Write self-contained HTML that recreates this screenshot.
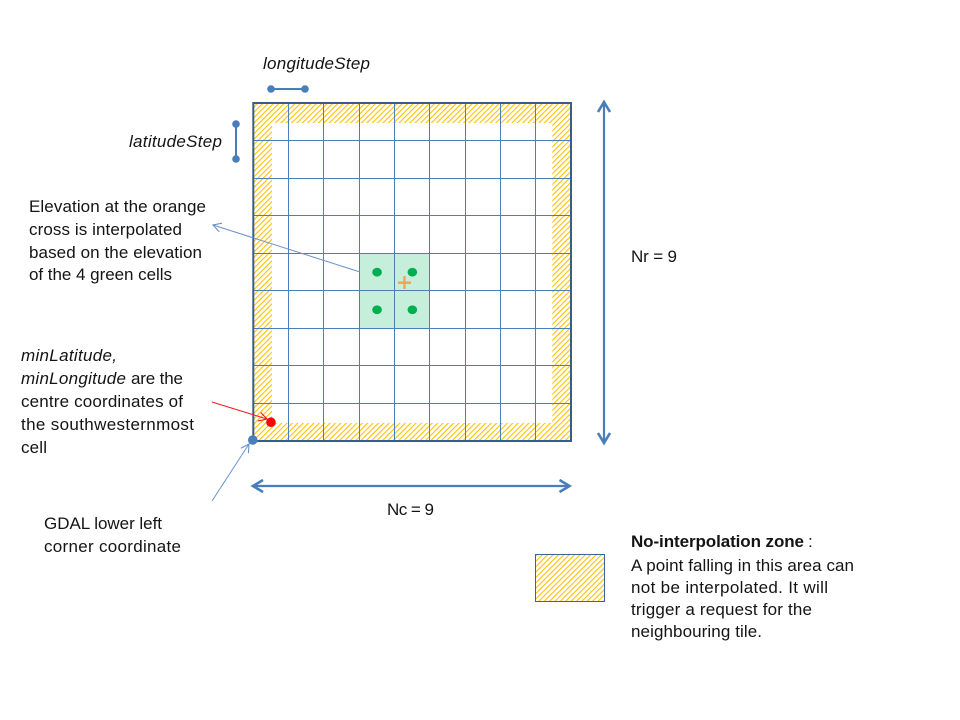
<!DOCTYPE html>
<html lang="en">
<head>
<meta charset="utf-8">
<title>Elevation tile grid diagram</title>
<style>
html,body{margin:0;padding:0;background:#fff;width:960px;height:720px;overflow:hidden}
svg{display:block}
text{font-family:"Liberation Sans",sans-serif;font-size:17px;fill:#141414}
.i{font-style:italic}
.b{font-weight:bold}
</style>
</head>
<body>
<svg id="diagram" width="960" height="720" viewBox="0 0 960 720" xmlns="http://www.w3.org/2000/svg">
  <defs>
    <pattern id="hatch" width="3.8" height="3.8" patternUnits="userSpaceOnUse" patternTransform="rotate(45)">
      <rect width="3.8" height="3.8" fill="#fff"/>
      <rect x="0" y="0" width="1.1" height="3.8" fill="#ffc000"/>
    </pattern>
    <marker id="headBlue" markerWidth="12" markerHeight="12" refX="10" refY="6" orient="auto-start-reverse" markerUnits="userSpaceOnUse">
      <path d="M2 1.5 L10 6 L2 10.5" fill="none" stroke="#6a92c8" stroke-width="1.1"/>
    </marker>
    <marker id="headRed" markerWidth="12" markerHeight="12" refX="10" refY="6" orient="auto" markerUnits="userSpaceOnUse">
      <path d="M2 1.5 L10 6 L2 10.5" fill="none" stroke="#ee1c25" stroke-width="1.1"/>
    </marker>
    <marker id="headBig" markerWidth="16" markerHeight="16" refX="13" refY="8" orient="auto-start-reverse" markerUnits="userSpaceOnUse">
      <path d="M3 2 L13 8 L3 14" fill="none" stroke="#4a7ebb" stroke-width="2.6"/>
    </marker>
  </defs>

  <g id="hatch-layer"></g>
  <g id="green-layer"></g>
  <g id="grid-layer"></g>
  <g id="dot-layer"></g>

  <g stroke="#f4a15d" stroke-width="2.4">
    <line x1="398" y1="282.700" x2="411" y2="282.700"/>
    <line x1="404.500" y1="276" x2="404.500" y2="289"/>
  </g>

  <g>
    <line x1="271" y1="89" x2="305" y2="89" stroke="#4a7ebb" stroke-width="2"/>
    <circle cx="271" cy="89" r="3.800" fill="#4a7ebb"/>
    <circle cx="305" cy="89" r="3.800" fill="#4a7ebb"/>
  </g>
  <g>
    <line x1="236" y1="124" x2="236" y2="159" stroke="#4a7ebb" stroke-width="2"/>
    <circle cx="236" cy="124" r="3.800" fill="#4a7ebb"/>
    <circle cx="236" cy="159" r="3.800" fill="#4a7ebb"/>
  </g>

  <line x1="604" y1="102" x2="604" y2="443" stroke="#4a7ebb" stroke-width="2.2" marker-start="url(#headBig)" marker-end="url(#headBig)"/>
  <line x1="253" y1="486" x2="569.500" y2="486" stroke="#4a7ebb" stroke-width="2.2" marker-start="url(#headBig)" marker-end="url(#headBig)"/>
  <line x1="360" y1="272" x2="213" y2="225" stroke="#6a92c8" stroke-width="1" marker-end="url(#headBlue)"/>
  <line x1="212" y1="402" x2="267" y2="419" stroke="#ee1c25" stroke-width="1" marker-end="url(#headRed)"/>
  <line x1="212" y1="501" x2="249" y2="444" stroke="#6a92c8" stroke-width="1" marker-end="url(#headBlue)"/>

  <rect x="535.500" y="554.500" width="69" height="47" fill="url(#hatch)" stroke="#3a6496" stroke-width="1"/>

  <text class="i" x="263" y="69" textLength="107">longitudeStep</text>
  <text class="i" x="129" y="147" textLength="93">latitudeStep</text>

  <g>
    <text x="29" y="212" textLength="177">Elevation at the orange</text>
    <text x="29" y="235" textLength="153">cross is interpolated</text>
    <text x="29" y="258" textLength="173">based on the elevation</text>
    <text x="29" y="280" textLength="143">of the 4 green cells</text>
  </g>

  <g>
    <text class="i" x="21" y="361" textLength="96">minLatitude,</text>
    <text class="i" x="21" y="384" textLength="105">minLongitude</text>
    <text x="131" y="384" textLength="52">are the</text>
    <text x="21" y="407" textLength="162">centre coordinates of</text>
    <text x="21" y="430" textLength="173">the southwesternmost</text>
    <text x="21" y="453" textLength="26">cell</text>
  </g>

  <g>
    <text x="44" y="529" textLength="118">GDAL lower left</text>
    <text x="44" y="552" textLength="137">corner coordinate</text>
  </g>

  <text x="631" y="262" textLength="46">Nr = 9</text>
  <text x="387" y="515" textLength="47">Nc = 9</text>

  <g>
    <text class="b" x="631" y="547" textLength="173">No-interpolation zone</text>
    <text x="808" y="547">:</text>
    <text x="631" y="571" textLength="223">A point falling in this area can</text>
    <text x="631" y="593" textLength="197">not be interpolated. It will</text>
    <text x="631" y="615" textLength="181">trigger a request for the</text>
    <text x="631" y="637" textLength="131">neighbouring tile.</text>
  </g>
</svg>

<script>
var columnCount = 9;
var rowCount = 9;
var greenColumns = [3, 3, 4, 4];
var greenRows = [4, 5, 4, 5];
var southwestColumn = 0;
var southwestRow = 8;

var NS = 'http://www.w3.org/2000/svg';
var gridLeft = 253.3, gridRight = 571, gridTop = 103, gridBottom = 441;
var bandX = 18.7, bandY = 20;

function xAt(col) { return gridLeft + (gridRight - gridLeft) * col / columnCount; }
function yAt(row) { return gridTop + (gridBottom - gridTop) * row / rowCount; }
function snap(v) { return Math.floor(v) + 0.5; }

function add(parent, tag, attrs) {
  var el = document.createElementNS(NS, tag);
  for (var k in attrs) el.setAttribute(k, attrs[k]);
  parent.appendChild(el);
  return el;
}

var hatchLayer = document.getElementById('hatch-layer');
var hatchBands = [
  [gridLeft, gridTop, gridRight - gridLeft, bandY],
  [gridLeft, gridBottom - bandY + 2, gridRight - gridLeft, bandY - 2],
  [gridLeft, gridTop, bandX, gridBottom - gridTop],
  [gridRight - bandX, gridTop, bandX, gridBottom - gridTop]
];
hatchBands.forEach(function (b) {
  var r = add(hatchLayer, 'rect', { x: b[0], y: b[1], width: b[2], height: b[3], fill: 'url(#hatch)' });
  
  
});

var greenLayer = document.getElementById('green-layer');
var dotLayer = document.getElementById('dot-layer');
greenColumns.forEach(function (col, i) {
  var row = greenRows[i];
  var cell = add(greenLayer, 'rect', { x: xAt(col), y: yAt(row), width: xAt(col + 1) - xAt(col), height: yAt(row + 1) - yAt(row), fill: '#c6efdb' });
  
  
  var dot = add(dotLayer, 'ellipse', { cx: (xAt(col) + xAt(col + 1)) / 2 + 0.200, cy: (yAt(row) + yAt(row + 1)) / 2 + 0.200, rx: 4.800, ry: 4.400, fill: '#00b050' });
  
  
});

var gridLayer = document.getElementById('grid-layer');
for (var c = 1; c < columnCount; c++) {
  var vl = add(gridLayer, 'line', { x1: snap(xAt(c)), y1: gridTop, x2: snap(xAt(c)), y2: gridBottom, stroke: '#4a7ebb', 'stroke-width': 1 });
  
  
}
for (var r = 1; r < rowCount; r++) {
  var hl = add(gridLayer, 'line', { x1: gridLeft, y1: snap(yAt(r)), x2: gridRight, y2: snap(yAt(r)), stroke: '#4a7ebb', 'stroke-width': 1 });
  
  
}
var border = add(gridLayer, 'rect', { x: gridLeft, y: gridTop, width: gridRight - gridLeft, height: gridBottom - gridTop, fill: 'none', stroke: '#385d8a', 'stroke-width': 2 });



var redDot = add(dotLayer, 'circle', { cx: (xAt(southwestColumn) + xAt(southwestColumn + 1)) / 2, cy: (yAt(southwestRow) + yAt(southwestRow + 1)) / 2, r: 4.800, fill: '#ff0000' });



var cornerDot = add(dotLayer, 'circle', { cx: xAt(0) - 0.500, cy: yAt(rowCount) - 1, r: 4.800, fill: '#4a7ebb' });


</script>
</body>
</html>
